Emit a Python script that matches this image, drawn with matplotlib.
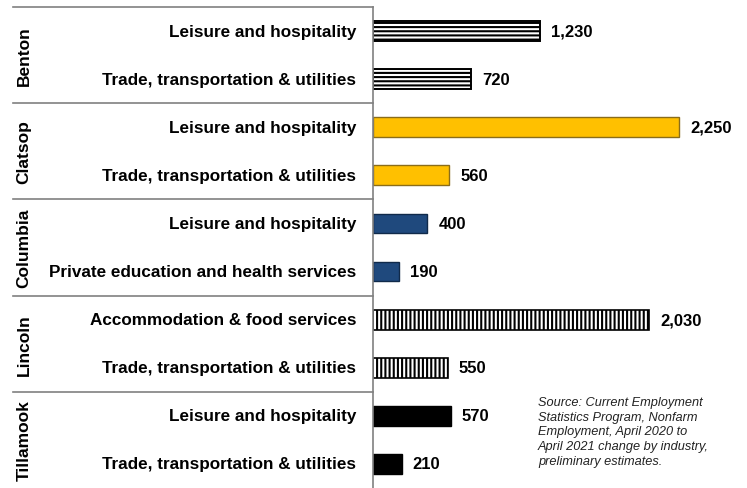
import matplotlib
matplotlib.use("Agg")
import matplotlib.pyplot as plt
from matplotlib.transforms import blended_transform_factory

plt.rcParams['font.family'] = ['Liberation Sans', 'DejaVu Sans']
plt.rcParams['hatch.linewidth'] = 1.0

counties = ["Benton", "Clatsop", "Columbia", "Lincoln", "Tillamook"]
industries = [
    ["Leisure and hospitality", "Trade, transportation & utilities"],
    ["Leisure and hospitality", "Trade, transportation & utilities"],
    ["Leisure and hospitality", "Private education and health services"],
    ["Accommodation & food services", "Trade, transportation & utilities"],
    ["Leisure and hospitality", "Trade, transportation & utilities"],
]
values = [
    [1230, 720],
    [2250, 560],
    [400, 190],
    [2030, 550],
    [570, 210],
]
source_text = ("Source: Current Employment\nStatistics Program, Nonfarm\n"
               "Employment, April 2020 to\nApril 2021 change by industry,\n"
               "preliminary estimates.")

styles = [
    dict(facecolor="white", edgecolor="black", hatch="----", lw=1.4, hlw=1.5),
    dict(facecolor="#FFC000", edgecolor="#8A6D1A", hatch=None, lw=1.0, hlw=1.0),
    dict(facecolor="#1F497D", edgecolor="#102A4A", hatch=None, lw=1.0, hlw=1.0),
    dict(facecolor="white", edgecolor="black", hatch="||||", lw=1.2, hlw=1.5),
    dict(facecolor="black", edgecolor="black", hatch=None, lw=1.0, hlw=1.0),
]

W, H = 747, 489
fig = plt.figure(figsize=(W / 100, H / 100), dpi=100)
ax = fig.add_axes([373 / W, 0, 1 - 373 / W, 481 / H])

row = 0
for gi, county in enumerate(counties):
    for ind, val in zip(industries[gi], values[gi]):
        st = styles[gi]
        bars = ax.barh(row, val, height=0.41, color=st["facecolor"],
                       edgecolor=st["edgecolor"], hatch=st["hatch"],
                       linewidth=st["lw"])
        for b in bars:
            if hasattr(b, "set_hatch_linewidth"):
                b.set_hatch_linewidth(st["hlw"])
        ax.annotate(f"{val:,}", xy=(val, row), xytext=(8, 0),
                    textcoords="offset points", va="center", ha="left",
                    fontsize=12, fontweight="bold")
        ax.annotate(ind, xy=(0, row), xytext=(-12, 0),
                    textcoords="offset points", va="center", ha="right",
                    fontsize=12.3, fontweight="bold", annotation_clip=False)
        row += 1

ax.set_xlim(0, 2750)
ax.set_ylim(9.5, -0.5)
for s in ["top", "right", "bottom"]:
    ax.spines[s].set_visible(False)
ax.spines["left"].set_color("#808080")
ax.spines["left"].set_linewidth(1.2)
ax.set_xticks([])
ax.set_yticks([])

trans = blended_transform_factory(fig.transFigure, ax.transData)
x0 = 13 / W
x1 = 373 / W
for gi, county in enumerate(counties):
    ytop = gi * 2 - 0.5
    ax.plot([x0, x1], [ytop, ytop], color="#808080", lw=1.2,
            transform=trans, clip_on=False)
    ax.text(24 / W, gi * 2 + 0.5, county, rotation=90, transform=trans,
            ha="center", va="center", fontsize=12.5, fontweight="bold")

fig.text(538 / W, 1 - 397 / H, source_text, ha="left", va="top",
         fontsize=9.2, fontstyle="italic", color="#222222", linespacing=1.3)

fig.savefig("out.png", dpi=100)
